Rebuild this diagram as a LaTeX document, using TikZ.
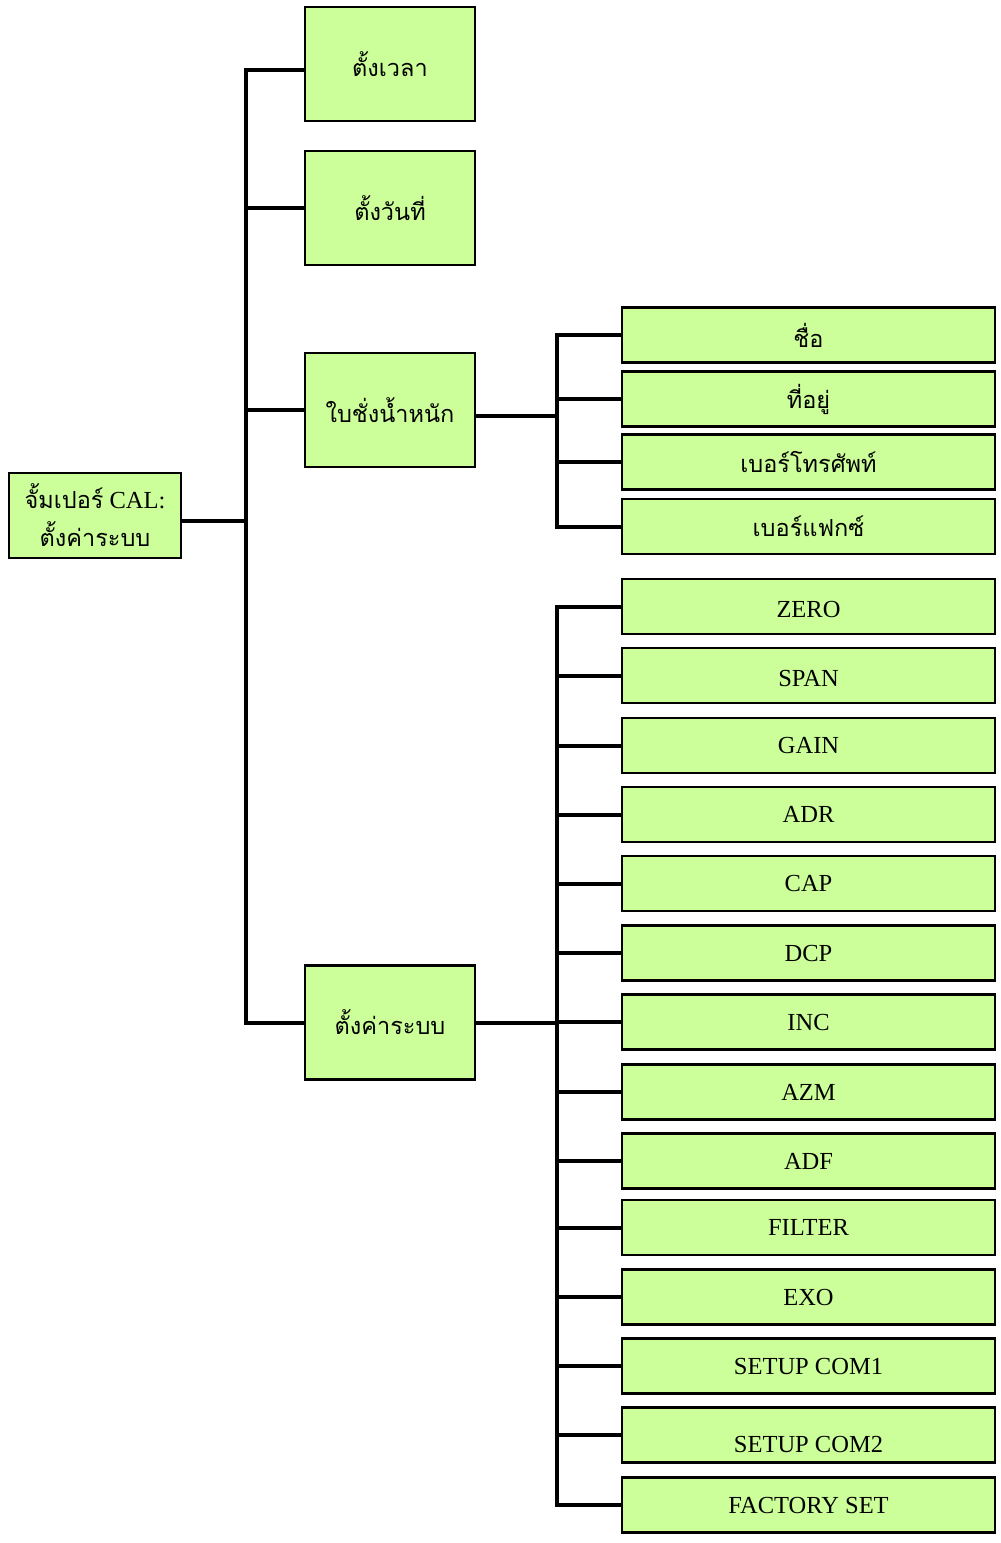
\documentclass[tikz,border=0pt]{standalone}
\usepackage{fontspec}
\setmainfont{Liberation Serif}
\newfontfamily\thai[Script=Thai]{Loma}
\definecolor{boxgreen}{RGB}{204,255,153}
\newcommand{\lowered}[2]{\raisebox{-#1}[\height][\depth]{#2}}
\begin{document}
\begin{tikzpicture}[x=1pt,y=-1pt,
  box/.style={draw=black, line width=2.5pt, fill=boxgreen, inner sep=0pt, align=center},
  thaitxt/.style={font=\thai\fontsize{23.5}{28}\selectfont},
  lvl/.style={box, minimum width=170pt, minimum height=114pt, thaitxt},
  sub/.style={box, minimum width=373pt, minimum height=55pt, font=\fontsize{24.5}{28}\selectfont},
  tsub/.style={sub, thaitxt},
  conn/.style={draw=black, line width=4pt, line cap=rect}]
\useasboundingbox (0,0) rectangle (1001,1543);
\fill[white] (0,0) rectangle (1001,1543);
% root
\node[box, minimum width=172pt, minimum height=85pt, font=\fontsize{24.5}{38}\selectfont] (root) at (95,515.5)
  {{\thai\fontsize{23.5}{28}\selectfont จั้มเปอร์} CAL:\\{\thai\fontsize{23.5}{28}\selectfont ตั้งค่าระบบ}};
% level 1
\node[lvl] (t1) at (390,64) {ตั้งเวลา};
\node[lvl] (t2) at (390,208) {ตั้งวันที่};
\node[lvl] (t3) at (390,410) {ใบชั่งน้ำหนัก};
\node[lvl] (t4) at (390,1022.5) {ตั้งค่าระบบ};
% thai sub boxes
\node[tsub] (s1) at (808.5,335) {ชื่อ};
\node[tsub] (s2) at (808.5,399) {ที่อยู่};
\node[tsub] (s3) at (808.5,462) {เบอร์โทรศัพท์};
\node[tsub] (s4) at (808.5,526.5) {เบอร์แฟกซ์};
% system sub boxes
\node[sub] (z1) at (808.5,606.5) {\lowered{3pt}{ZERO}};
\node[sub] (z2) at (808.5,675.5) {\lowered{3pt}{SPAN}};
\node[sub] (z3) at (808.5,745.5) {GAIN};
\node[sub] (z4) at (808.5,814.5) {ADR};
\node[sub] (z5) at (808.5,883.5) {CAP};
\node[sub] (z6) at (808.5,953) {DCP};
\node[sub] (z7) at (808.5,1022) {INC};
\node[sub] (z8) at (808.5,1092) {AZM};
\node[sub] (z9) at (808.5,1161) {ADF};
\node[sub] (z10) at (808.5,1227.5) {FILTER};
\node[sub] (z11) at (808.5,1297) {EXO};
\node[sub] (z12) at (808.5,1366) {SETUP COM1};
\node[sub] (z13) at (808.5,1435) {\lowered{9pt}{SETUP COM2}};
\node[sub] (z14) at (808.5,1505) {FACTORY SET};
% buses
\coordinate (busA) at (246,0);
\coordinate (busB) at (557,0);
\coordinate (t1in) at ([yshift=-6pt]t1.west);
\coordinate (t3out) at ([yshift=-6pt]t3.east);
\coordinate (rootout) at ([yshift=-5.5pt]root.east);
\draw[conn] (busA |- t1in) -- (busA |- t4.west);
\draw[conn] (rootout) -- (busA |- rootout);
\draw[conn] (busA |- t1in) -- (t1in);
\foreach \n in {t2,t3,t4} \draw[conn] (busA |- \n.west) -- (\n.west);
\draw[conn] (busB |- s1.west) -- (busB |- s4.west);
\draw[conn] (t3out) -- (busB |- t3out);
\foreach \n in {s1,s2,s3,s4} \draw[conn] (busB |- \n.west) -- (\n.west);
\draw[conn] (busB |- z1.west) -- (busB |- z14.west);
\draw[conn] (t4.east) -- (busB |- t4.east);
\foreach \n in {z1,z2,z3,z4,z5,z6,z7,z8,z9,z10,z11,z12,z13,z14} \draw[conn] (busB |- \n.west) -- (\n.west);
\end{tikzpicture}
\end{document}
